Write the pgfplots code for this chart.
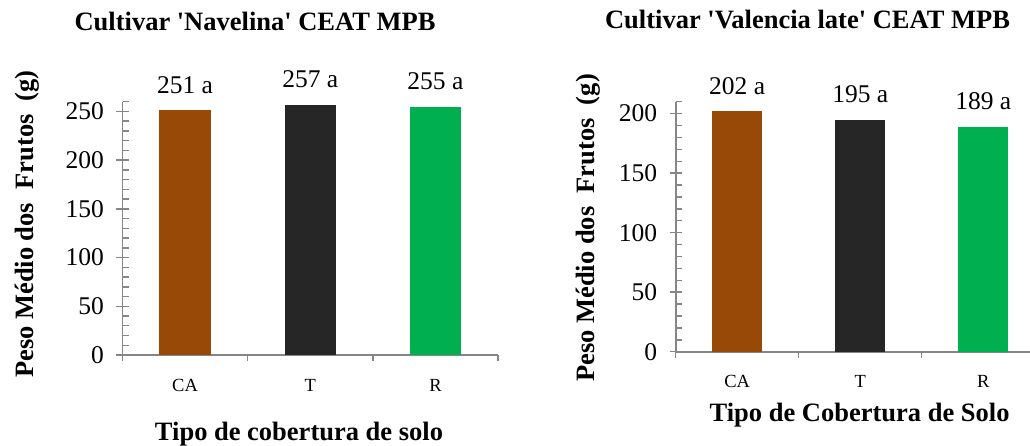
\documentclass[border=0pt]{standalone}
\usepackage{fontspec}
\setmainfont{Liberation Serif}
\usepackage{pgfplots}
\pgfplotsset{compat=1.18}
\definecolor{caBrown}{HTML}{984807}
\definecolor{tBlack}{HTML}{262626}
\definecolor{rGreen}{HTML}{00B050}
\definecolor{axisGray}{HTML}{868686}

\pgfplotsset{
  barchart/.style={
    scale only axis, clip=false, anchor=south west,
    axis x line*=bottom, axis y line*=left,
    axis line style={axisGray, line width=1.8pt},
    ybar, bar shift=0pt, bar width=0.41,
    xmin=-0.5, xtick={0,1,2}, xticklabels={CA,T,R},
    tick align=center,
    major x tick style={draw=none},
    major y tick style={axisGray, line width=1.4pt},
    minor x tick style={axisGray, line width=1.4pt, yshift=-3pt},
    minor y tick style={axisGray, line width=1.4pt, xshift=3pt},
    major tick length=12pt, minor tick length=6pt,
    /pgf/number format/assume math mode=true,
    yticklabel style={font=\fontsize{25.5}{28}\selectfont, inner sep=0pt, xshift=-12.5pt},
    xticklabel style={font=\fontsize{18.5}{20}\selectfont, anchor=base, inner sep=0pt, yshift=-30pt},
    title style={font=\fontsize{26.5}{30}\selectfont\bfseries, anchor=base},
    every axis label/.append style={font=\fontsize{26.5}{30}\selectfont\bfseries},
    xlabel style={anchor=base},
    ylabel style={anchor=base},
    point meta=explicit symbolic,
    nodes near coords,
    every node near coord/.append style={anchor=base, inner sep=0pt, yshift=17pt,
      text=black, font=\fontsize{25.5}{28}\selectfont},
  }
}

\begin{document}
\begin{tikzpicture}
\useasboundingbox (0,0) rectangle (1030pt,-445pt);

% left chart
\begin{axis}[barchart,
  at={(122.5pt,-355pt)}, width=375.5pt, height=253.3pt,
  xmax=2.5, ymin=0, ymax=260,
  ytick={0,50,...,250}, minor ytick={10,20,...,260},
  minor xtick={-0.5,0.5,1.5,2.5},
  title={Cultivar \textquotesingle Navelina\textquotesingle{} CEAT MPB},
  title style={at={(axis description cs:0.353,1.259)}},
  xlabel={Tipo de cobertura de solo},
  xlabel style={at={(axis description cs:0.470,-0.336)}},
  ylabel={Peso Médio dos\ \ Frutos\ \ (g)},
  ylabel style={at={(axis description cs:-0.238,0.517)}},
]
\addplot[fill=caBrown, draw=none] coordinates {(0,251) [251 a]};
\addplot[fill=tBlack, draw=none] coordinates {(1,257) [257 a]};
\addplot[fill=rGreen, draw=none] coordinates {(2,255) [255 a]};
\end{axis}

% right chart
\begin{axis}[barchart,
  at={(675.7pt,-351.7pt)}, width=354.3pt, height=250pt,
  xmax=2.38, ymin=0, ymax=210,
  ytick={0,50,...,200}, minor ytick={10,20,...,210},
  minor xtick={-0.5,0.5,1.5},
  title={Cultivar \textquotesingle Valencia late\textquotesingle{} CEAT MPB},
  title style={at={(axis description cs:0.372,1.267)}},
  xlabel={Tipo de Cobertura de Solo},
  xlabel style={at={(axis description cs:0.519,-0.281)}},
  ylabel={Peso Médio dos\ \ Frutos\ \ (g)},
  ylabel style={at={(axis description cs:-0.228,0.495)}},
]
\addplot[fill=caBrown, draw=none] coordinates {(0,202) [202 a]};
\addplot[fill=tBlack, draw=none] coordinates {(1,195) [195 a]};
\addplot[fill=rGreen, draw=none] coordinates {(2,189) [189 a]};
\end{axis}
\end{tikzpicture}
\end{document}
